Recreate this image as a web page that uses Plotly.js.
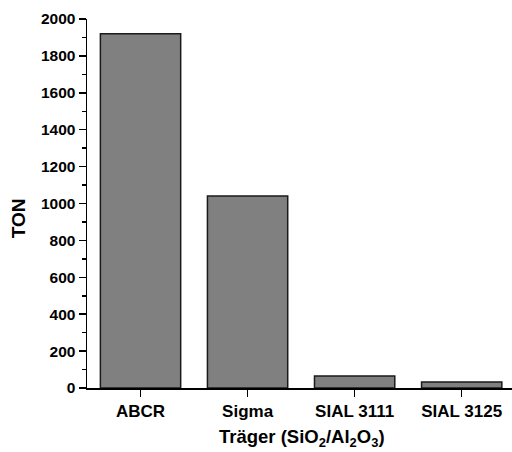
<!DOCTYPE html>
<html>
<head>
<meta charset="utf-8">
<script src="https://cdn.plot.ly/plotly-3.0.1.min.js"></script>
<style>html,body{margin:0;padding:0;background:#fff;}#chart{width:512px;height:452px;}</style>
</head>
<body>
<div id="chart"></div>
<script>
const categories = ["ABCR", "Sigma", "SIAL 3111", "SIAL 3125"];
const tonValues = [1920, 1040, 65, 33];
const yTickValues = [0, 200, 400, 600, 800, 1000, 1200, 1400, 1600, 1800, 2000];
const xTitle = "Träger (SiO<sub>2</sub>/Al<sub>2</sub>O<sub>3</sub>)";
const yTitle = "TON";

const fam = "Liberation Sans, Arial, sans-serif";

Plotly.newPlot("chart", [{
  type: "bar",
  x: categories,
  y: tonValues,
  marker: {color: "#808080", line: {color: "#1a1a1a", width: 1.5}},
  width: 0.75
}], {
  width: 512, height: 452,
  margin: {l: 87, r: 0, t: 19, b: 64},
  paper_bgcolor: "#fff", plot_bgcolor: "#fff",
  showlegend: false,
  font: {family: fam, color: "#000", weight: "bold"},
  xaxis: {
    type: "category",
    range: [-0.5, 3.47],
    showline: true, linecolor: "#000", linewidth: 1.5,
    ticks: "outside", ticklen: 7, tickwidth: 1.5, tickcolor: "#000",
    showgrid: false, zeroline: false,
    tickfont: {family: fam, size: 17, weight: "bold", color: "#000"},
    fixedrange: true
  },
  yaxis: {
    range: [0, 2000],
    tickvals: yTickValues,
    ticktext: yTickValues.map(String),
    showline: true, linecolor: "#000", linewidth: 1.5,
    ticks: "outside", ticklen: 7, tickwidth: 1.5, tickcolor: "#000",
    minor: {dtick: 100, ticks: "outside", ticklen: 4, tickwidth: 1.5, tickcolor: "#000"},
    showgrid: false, zeroline: false,
    tickfont: {family: fam, size: 15.5, weight: "bold", color: "#000"},
    fixedrange: true
  },
  annotations: [
    {text: xTitle, xref: "paper", yref: "paper", x: 0.505, xanchor: "center",
     y: 0, yshift: -50, yanchor: "middle", showarrow: false,
     font: {family: fam, size: 18.5, weight: "bold", color: "#000"}},
    {text: yTitle, xref: "paper", yref: "paper", x: 0, xshift: -69, xanchor: "center",
     y: 0.46, yanchor: "middle", textangle: -90, showarrow: false,
     font: {family: fam, size: 19, weight: "bold", color: "#000"}}
  ]
}, {displayModeBar: false, staticPlot: true});
</script>
</body>
</html>
